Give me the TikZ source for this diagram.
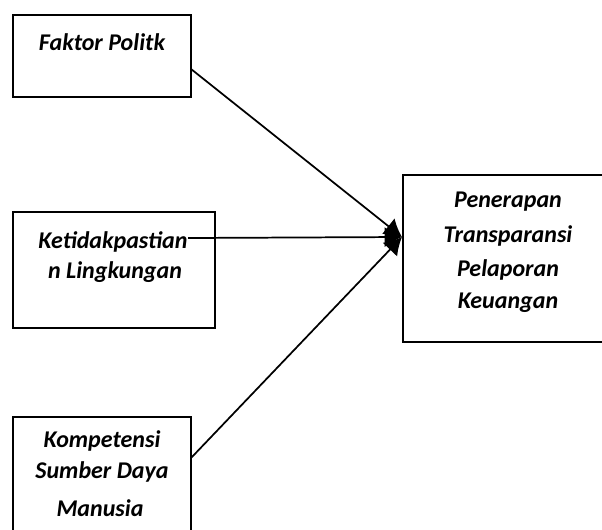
\documentclass[tikz,border=0pt]{standalone}
\usepackage{fontspec}
\setmainfont{Carlito}
\usetikzlibrary{arrows.meta}
\begin{document}
\begin{tikzpicture}[x=0.75pt,y=-0.75pt,
  box/.style={draw=black,line width=1.5pt,inner sep=0pt},
  txt/.style={font=\fontsize{18}{22}\selectfont\bfseries\itshape,inner sep=0pt,anchor=center},
  conn/.style={draw=black,line width=1.3pt,-{Latex[length=13pt,width=15pt]}}]
\useasboundingbox (0,0) rectangle (602,529);
\clip (0,0) rectangle (602,529);
% boxes
\draw[box] (13,15) rectangle (191,97);
\coordinate (b1e) at (191,69);
\draw[box] (13,212) rectangle (215,328);
\draw[box] (13,417) rectangle (191,540);
\coordinate (b3e) at (191,458);
\draw[box] (403,175) rectangle (620,342);
\coordinate (tip) at (402,237);
% texts
\node[txt] (t1) at (102,42) {Faktor Politk};
\node[txt] (t2a) at (113,242) {Ketidakpastian};
\node[txt] (t2b) at (115,272) {n Lingkungan};
\node[txt] (t3a) at (102,441) {Kompetensi};
\node[txt] (t3b) at (102,472) {Sumber Daya};
\node[txt] (t3c) at (100,508) {Manusia};
\node[txt] (t4a) at (508,202) {Penerapan};
\node[txt] (t4b) at (508,236) {Transparansi};
\node[txt] (t4c) at (508,270) {Pelaporan};
\node[txt] (t4d) at (508,303) {Keuangan};
% connectors
\coordinate (c2) at (188,238);
\draw[conn] (b1e) -- (tip);
\draw[conn] (c2) -- (tip);
\draw[conn] (b3e) -- (tip);
\end{tikzpicture}
\end{document}
